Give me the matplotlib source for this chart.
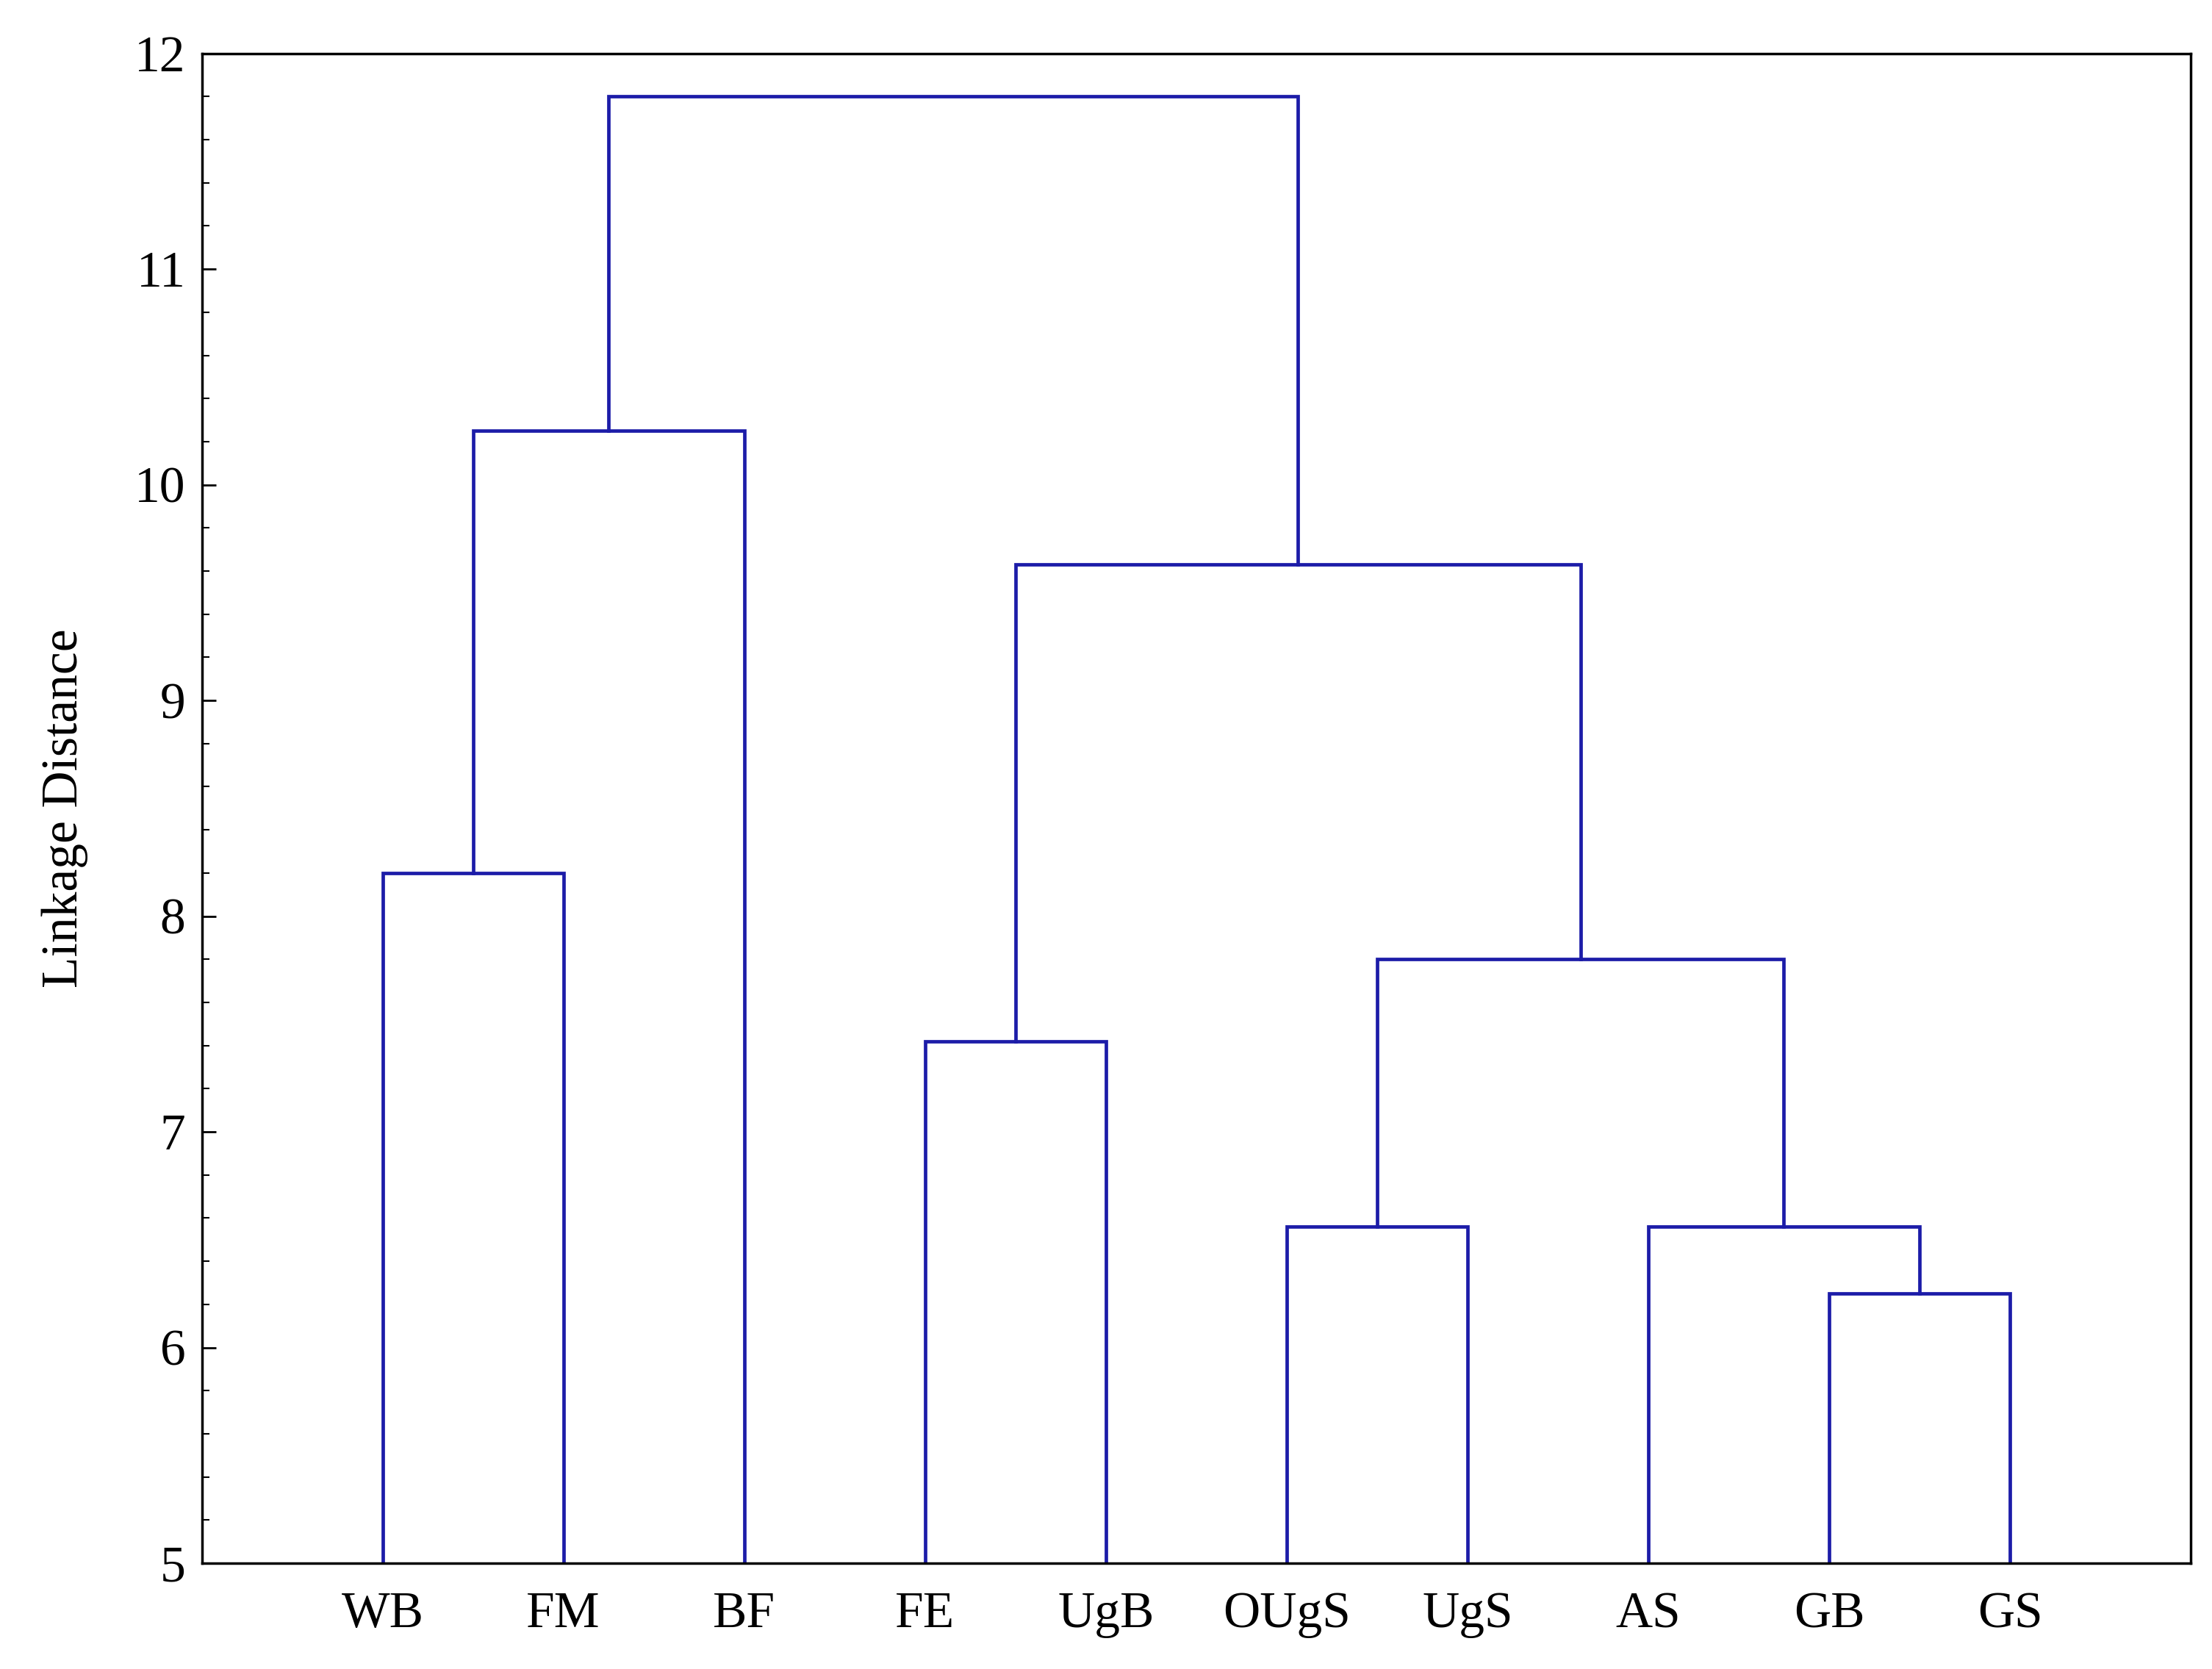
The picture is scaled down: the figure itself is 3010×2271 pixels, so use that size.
import matplotlib
matplotlib.use("Agg")
import matplotlib.pyplot as plt
from matplotlib.ticker import MultipleLocator

labels = ["WB", "FM", "BF", "FE", "UgB", "OUgS", "UgS", "AS", "GB", "GS"]
# merges: (left child, right child, height); children: leaf index or ("n", k)
merges = [
    (0, 1, 8.2),            # n0
    (("n", 0), 2, 10.25),   # n1
    (3, 4, 7.42),           # n2
    (5, 6, 6.56),           # n3
    (8, 9, 6.25),           # n4
    (7, ("n", 4), 6.56),    # n5
    (("n", 3), ("n", 5), 7.8),   # n6
    (("n", 2), ("n", 6), 9.63),  # n7
    (("n", 1), ("n", 7), 11.8),  # n8
]
ybase = 5

plt.rcParams['font.family'] = ['Liberation Serif', 'DejaVu Serif']
fig = plt.figure(figsize=(30.10, 22.71), dpi=100)
ax = fig.add_axes([0.0912, 0.0634, 0.8992, 0.9046])
color = '#1c1ca8'
lw = 3.4

def pos(c, nodes):
    if isinstance(c, tuple):
        return nodes[c[1]]
    return (c + 1, ybase)

nodes = []
for a, b, h in merges:
    xa, ya = pos(a, nodes)
    xb, yb = pos(b, nodes)
    ax.plot([xa, xa, xb, xb], [ya, h, h, yb], color=color, lw=lw, solid_joinstyle='miter')
    nodes.append(((xa + xb) / 2, h))

ax.set_xlim(0, 11)
ax.set_ylim(5, 12)
ax.set_xticks(range(1, 11))
ax.set_xticklabels(labels)
ax.tick_params(axis='x', length=0, pad=28, labelsize=50)
ax.yaxis.set_major_locator(MultipleLocator(1))
ax.yaxis.set_minor_locator(MultipleLocator(0.2))
ax.tick_params(axis='y', which='major', direction='in', length=14, width=2, labelsize=50, pad=16)
ax.tick_params(axis='y', which='minor', direction='in', length=7, width=1.5)
ax.set_ylabel("Linkage Distance", fontsize=50, labelpad=45)
for s in ax.spines.values():
    s.set_linewidth(2.5)
fig.savefig("out.png", dpi=100)
